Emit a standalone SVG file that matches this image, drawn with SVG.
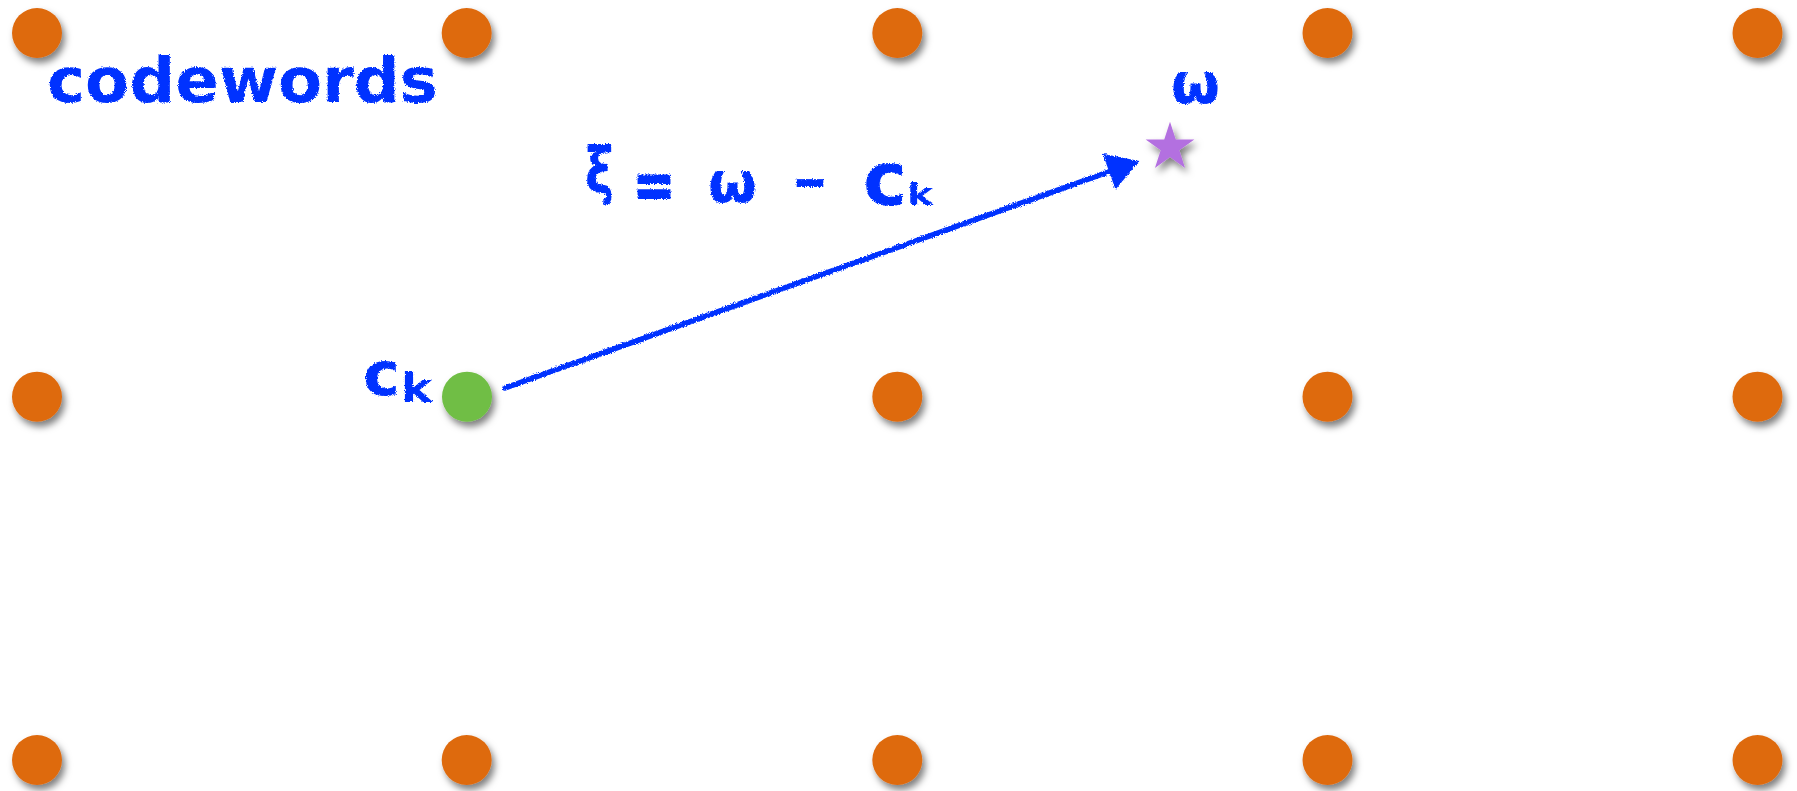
<svg xmlns="http://www.w3.org/2000/svg" width="1797" height="791" viewBox="0 0 1797 791">
<defs>
<style>
.dot{fill:#DE6A10;filter:url(#sh)}
.hand{fill:#0433FF;font-family:"DejaVu Sans",sans-serif;font-weight:bold;filter:url(#rough)}
.conn{stroke:#0433FF;stroke-width:5.5;fill:none;stroke-linecap:round;filter:url(#rough)}
</style>
<filter id="sh" x="-50%" y="-50%" width="200%" height="200%">
<feDropShadow dx="3" dy="5" stdDeviation="3.5" flood-color="#000" flood-opacity="0.5"/>
</filter>
<filter id="rough" x="-10%" y="-10%" width="120%" height="120%">
<feTurbulence type="fractalNoise" baseFrequency="0.9" numOctaves="2" seed="3" result="n"/>
<feDisplacementMap in="SourceGraphic" in2="n" scale="3.5" xChannelSelector="R" yChannelSelector="G"/>
</filter>
<marker id="ah" markerUnits="userSpaceOnUse" markerWidth="44" markerHeight="44" viewBox="0 -22 34 44" refX="2" refY="0" orient="auto">
<path d="M0,-19 L32,0 L0,19 Z" fill="#0433FF"/>
</marker>
</defs>
<rect width="1797" height="791" fill="#fff"/>
<g id="dots">
<g id="d00"><circle class="dot" cx="37" cy="33" r="25"/></g>
<g id="d01"><circle class="dot" cx="466.7" cy="33" r="25"/></g>
<g id="d02"><circle class="dot" cx="897.3" cy="33" r="25"/></g>
<g id="d03"><circle class="dot" cx="1327.5" cy="33" r="25"/></g>
<g id="d04"><circle class="dot" cx="1757.5" cy="33" r="25"/></g>
<g id="d10"><circle class="dot" cx="37" cy="396.7" r="25"/></g>
<g id="ck"><circle cx="467" cy="396.7" r="25" fill="#6FBE44" style="filter:url(#sh)"/></g>
<g id="d12"><circle class="dot" cx="897.3" cy="396.7" r="25"/></g>
<g id="d13"><circle class="dot" cx="1327.5" cy="396.7" r="25"/></g>
<g id="d14"><circle class="dot" cx="1757.5" cy="396.7" r="25"/></g>
<g id="d20"><circle class="dot" cx="37" cy="760" r="25"/></g>
<g id="d21"><circle class="dot" cx="466.7" cy="760" r="25"/></g>
<g id="d22"><circle class="dot" cx="897.3" cy="760" r="25"/></g>
<g id="d23"><circle class="dot" cx="1327.5" cy="760" r="25"/></g>
<g id="d24"><circle class="dot" cx="1757.5" cy="760" r="25"/></g>
</g>
<g id="w-star">
<polygon points="1170,121.7 1175.75,139.39 1194.35,139.39 1179.3,150.32 1185.05,168.01 1170,157.08 1154.95,168.01 1160.7,150.32 1145.65,139.39 1164.25,139.39" fill="#B36FE0" style="filter:url(#sh)"/>
</g>
<g id="connectors">
<path class="conn" d="M505,388 L1111,171" marker-end="url(#ah)"/>
</g>
<g id="labels">
<text class="hand" x="47" y="102" font-size="62" textLength="391" lengthAdjust="spacingAndGlyphs">codewords</text>
<text class="hand" x="1171" y="103" font-size="56" textLength="49" lengthAdjust="spacingAndGlyphs">ω</text>
<text class="hand" font-size="56"><tspan x="585" y="193" font-size="64" textLength="29" lengthAdjust="spacingAndGlyphs">ξ</tspan><tspan x="633" y="208" font-size="66" textLength="42" lengthAdjust="spacingAndGlyphs" stroke="#0433FF" stroke-width="2">=</tspan><tspan x="708" y="202" textLength="49" lengthAdjust="spacingAndGlyphs">ω</tspan><tspan x="792" y="199" textLength="36" lengthAdjust="spacingAndGlyphs">-</tspan><tspan x="863" y="205" font-size="74" textLength="44" lengthAdjust="spacingAndGlyphs">c</tspan><tspan x="907" y="205" font-size="30" textLength="26" lengthAdjust="spacingAndGlyphs">k</tspan></text>
<text class="hand" font-size="60"><tspan x="363" y="395" textLength="37" lengthAdjust="spacingAndGlyphs">c</tspan><tspan x="401" y="402" font-size="40" textLength="31" lengthAdjust="spacingAndGlyphs">k</tspan></text>
</g>
</svg>
